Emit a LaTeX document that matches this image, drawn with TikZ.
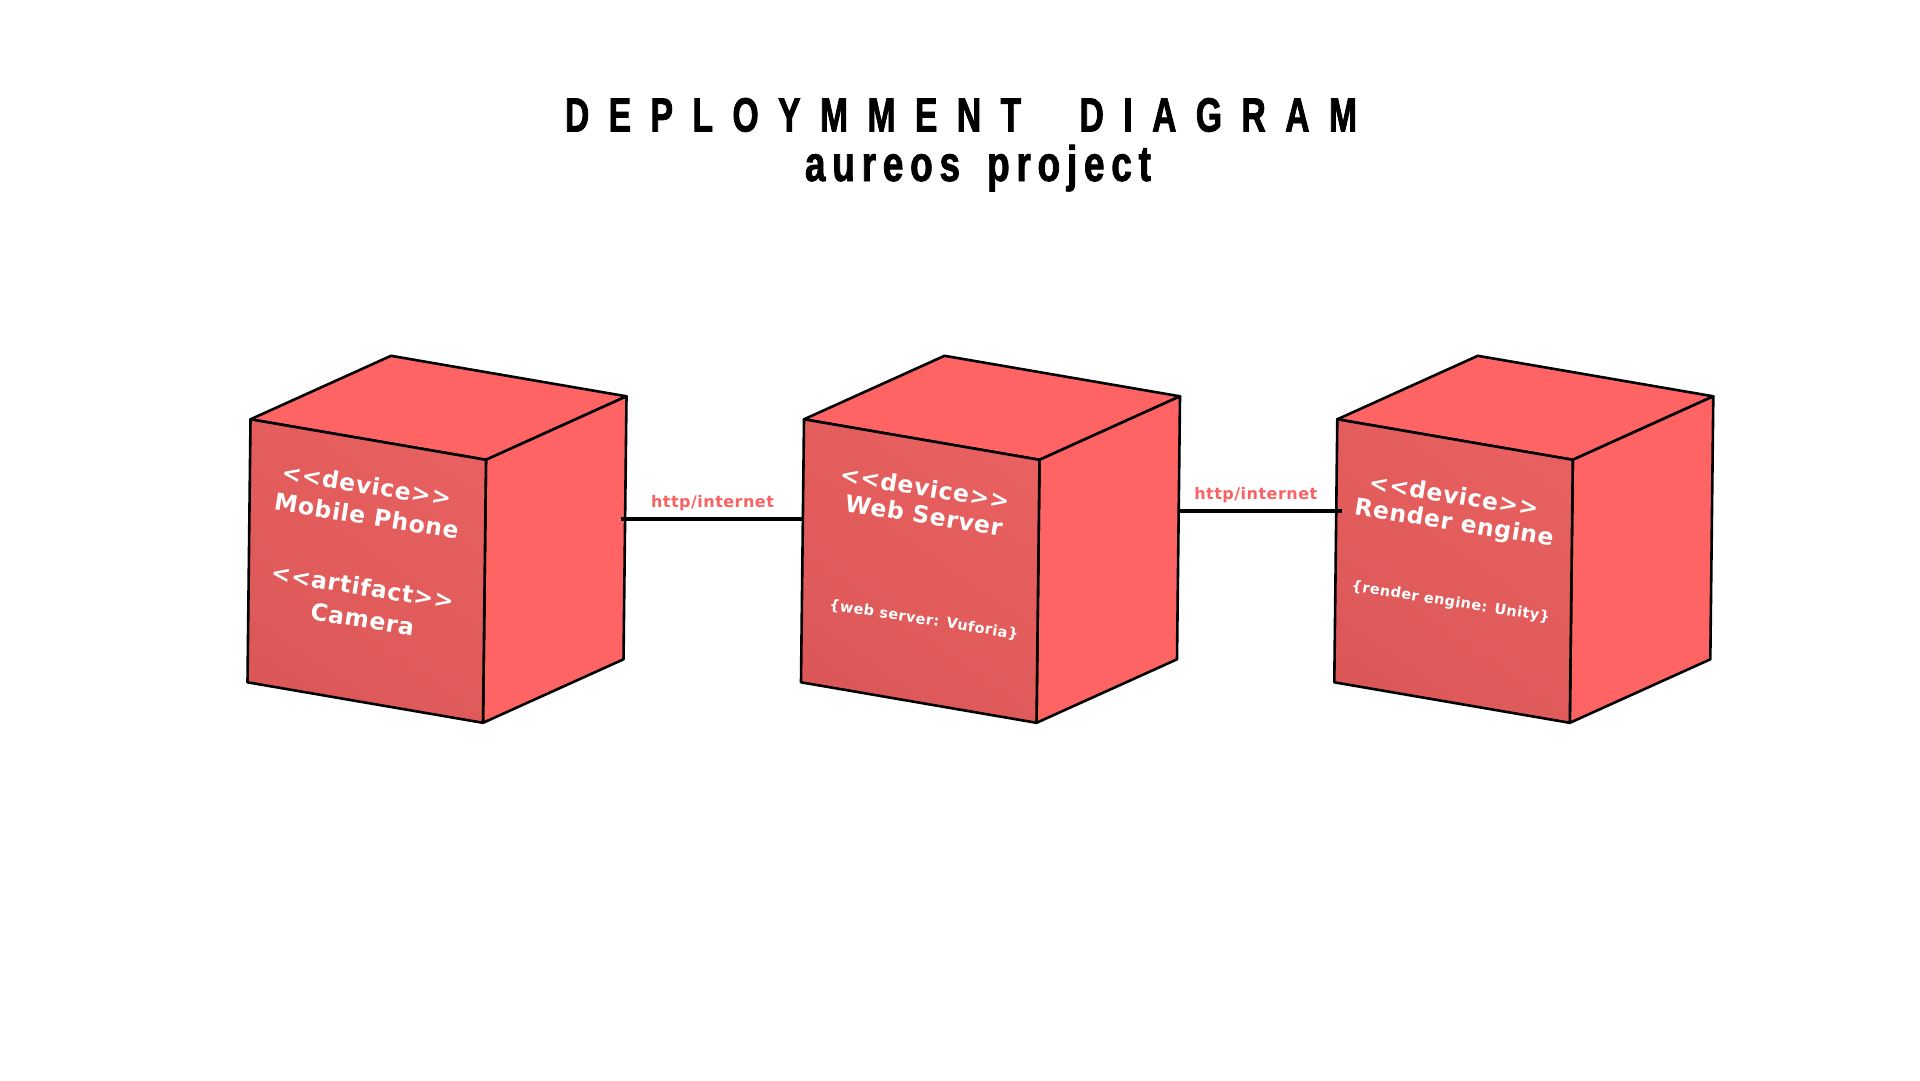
\documentclass[tikz,border=0pt]{standalone}
\usepackage{fontspec}
\newfontfamily\titlefont{Liberation Sans}[FakeStretch=0.7, FakeBold=1.6]
\newfontfamily\subtitlefont{Liberation Sans}[FakeStretch=0.74, FakeBold=1.6]
\newfontfamily\cubefont{DejaVu Sans}[LetterSpace=3]

\definecolor{cubetop}{HTML}{FF6464}
\definecolor{cubefrontA}{HTML}{E86060}
\definecolor{cubefrontB}{HTML}{DC5858}
\definecolor{linkred}{HTML}{F96262}

\tikzset{
  cubeedge/.style={draw=black, line width=2.6pt, line join=round},
  sideface/.style={cubeedge, fill=cubetop},
  frontface/.style={cubeedge, top color=cubefrontA, bottom color=cubefrontB, shading angle=-35},
  devtext/.style={text=white, font=\cubefont\bfseries\fontsize{23.5}{29}\selectfont, rotate=-9, inner sep=0pt},
  proptext/.style={text=white, font=\cubefont\bfseries\fontsize{14.5}{18}\selectfont, rotate=-9, inner sep=0pt},
  link/.style={draw=black, line width=4pt},
  linklabel/.style={text=linkred, font=\cubefont\bfseries\fontsize{16}{19}\selectfont, inner sep=0pt, anchor=base},
  devcube/.pic={
    \path[sideface] (0,0) -- (140.5,-63.5) -- (376,-23) -- (235.5,40.5) -- cycle;
    \path[sideface] (235.5,40.5) -- (376,-23) -- (373,240) -- (232.5,303.5) -- cycle;
    \path[frontface] (0,0) -- (235.5,40.5) -- (232.5,303.5) -- (-3,263) -- cycle;
  }
}

\begin{document}
\begin{tikzpicture}[x=1pt, y=-1pt]
\useasboundingbox[fill=white] (0,0) rectangle (1920,1080);

% title
\node[anchor=base, inner sep=0pt, font=\titlefont\bfseries\fontsize{48}{52}\selectfont] (title) at (961,131.5)
  {\makebox[792pt][s]{D\hfill E\hfill P\hfill L\hfill O\hfill Y\hfill M\hfill M\hfill E\hfill N\hfill T\hfill\hfill\hfill D\hfill I\hfill A\hfill G\hfill R\hfill A\hfill M}};
\node[anchor=base, inner sep=0pt, font=\subtitlefont\bfseries\fontsize{50}{54}\selectfont] (subtitle) at (978,181)
  {\makebox[346pt][s]{a\hfill u\hfill r\hfill e\hfill o\hfill s\hfill\hfill\hfill\hfill p\hfill r\hfill o\hfill j\hfill e\hfill c\hfill t}};

% cubes
\pic (c1) at (250.5,419.3) {devcube};
\pic (c2) at (804,419.3) {devcube};
\pic (c3) at (1337.3,419.3) {devcube};

% connection ports
\coordinate (c1-e) at (620.5,519);
\coordinate (c2-w) at (802,519);
\coordinate (c2-e) at (1178,511.3);
\coordinate (c3-w) at (1341.7,511.3);

\draw[link] (c1-e) -- (c2-w);
\draw[link] (c2-e) -- (c3-w);

\node[linklabel] (l1) at (712.5,507.7) {http/internet};
\node[linklabel] (l2) at (1255.8,499.3) {http/internet};

% cube 1 texts
\node[devtext] (t11) at (366.7,485) {<<device>>};
\node[devtext] (t12) at (366.7,515.8) {Mobile Phone};
\node[devtext] (t13) at (362.5,586.7) {<<artifact>>};
\node[devtext] (t14) at (362.5,619) {Camera};

% cube 2 texts
\node[devtext] (t21) at (925,487.5) {<<device>>};
\node[devtext] (t22) at (924,515) {Web Server};
\node[proptext] (t23) at (923.8,620) {\{web server: Vuforia\}};

% cube 3 texts
\node[devtext] (t31) at (1454,495) {<<device>>};
\node[devtext] (t32) at (1454,524) {Render engine};
\node[proptext] (t33) at (1450.8,602.5) {\{render engine: Unity\}};
\end{tikzpicture}
\end{document}
